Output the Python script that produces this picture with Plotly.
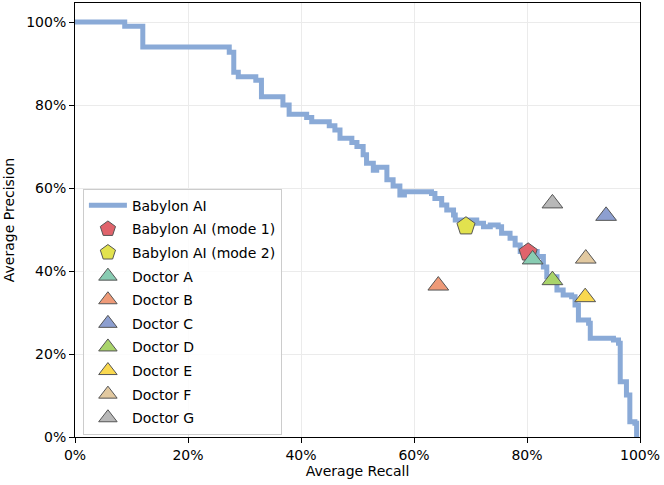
import plotly.graph_objects as go

# Babylon AI precision-recall curve (percent), step points (drawn as 'hv')
curve_recall = [0, 8.8, 12.0, 27.3, 28.1, 28.9, 32.0, 33.0, 36.8, 37.9, 41.0, 41.9,
                45.0, 46.0, 46.9, 49.0, 49.9, 51.0, 51.6, 52.8, 53.4, 55.2, 56.3,
                57.5, 58.3, 63.1, 63.7, 64.9, 65.8, 67.0, 67.3, 71.1, 72.3, 73.5,
                74.9, 75.5, 77.0, 77.9, 78.8, 81.8, 82.9, 83.5, 85.3, 86.4, 87.9,
                88.5, 89.1, 90.9, 91.2, 95.3, 96.2, 96.5, 97.6, 98.2, 99.1, 99.4]
curve_precision = [100, 99, 94, 92.7, 87.9, 86.8, 86.0, 82.0, 80.0, 77.8, 77.0, 76.0,
                   75.0, 74.0, 72.0, 71.0, 70.0, 68.0, 66.0, 64.3, 65.0, 62.0, 60.5,
                   58.3, 59.1, 58.7, 57.5, 55.9, 54.7, 53.5, 52.3, 51.5, 50.7, 51.1,
                   50.7, 49.1, 47.9, 46.3, 44.7, 43.5, 41.0, 38.6, 35.4, 34.2, 33.8,
                   31.8, 28.2, 27.4, 23.8, 23.4, 22.6, 13.3, 10.1, 3.7, 3.3, 0.0]

# Babylon AI operating modes
mode_names = ["Babylon AI (mode 1)", "Babylon AI (mode 2)"]
mode_recall = [80.2, 69.2]
mode_precision = [44.5, 50.8]
mode_colors = ["#e0636b", "#e2e24e"]

# Doctors
doctor_names = ["Doctor A", "Doctor B", "Doctor C", "Doctor D", "Doctor E", "Doctor F", "Doctor G"]
doctor_recall = [81.0, 64.3, 94.0, 84.5, 90.3, 90.4, 84.5]
doctor_precision = [42.8, 36.5, 53.3, 37.8, 33.7, 43.0, 56.3]
doctor_colors = ["#88ccb2", "#ee9a78", "#8d9fd0", "#a9d46a", "#f9d84f", "#e2c9a0", "#b8b8b8"]

tick_vals = [0, 20, 40, 60, 80, 100]
tick_text = ["0%", "20%", "40%", "60%", "80%", "100%"]

fig = go.Figure()

fig.add_trace(go.Scatter(
    x=curve_recall, y=curve_precision, mode="lines", name="Babylon AI",
    line=dict(color="#8aaad7", width=5, shape="hv"), legendgroup="g0",
))

for i, (n, x, y, c) in enumerate(zip(mode_names, mode_recall, mode_precision, mode_colors)):
    fig.add_trace(go.Scatter(
        x=[x], y=[y], mode="markers", name=n, legendgroup=f"m{i}",
        marker=dict(symbol="pentagon", size=19, color=c,
                    line=dict(color="#555555", width=1)),
    ))

for i, (n, x, y, c) in enumerate(zip(doctor_names, doctor_recall, doctor_precision, doctor_colors)):
    fig.add_trace(go.Scatter(
        x=[x], y=[y], mode="markers", name=n, legendgroup=f"d{i}",
        marker=dict(symbol="triangle-up", size=18, color=c,
                    line=dict(color="#555555", width=1)),
    ))

axis_common = dict(
    showline=True, linecolor="black", linewidth=1, mirror=True,
    ticks="outside", ticklen=5, tickcolor="black", tickwidth=1,
    showgrid=True, gridcolor="#ebebeb", gridwidth=1, zeroline=False,
    tickmode="array", tickvals=tick_vals, ticktext=tick_text,
    tickfont=dict(size=14, color="black"),
)

fig.update_layout(
    width=664, height=485, autosize=False,
    margin=dict(l=75, r=24, t=3, b=48),
    paper_bgcolor="white", plot_bgcolor="white",
    font=dict(family="DejaVu Sans", size=14, color="black"),
    xaxis=dict(range=[0, 100], title=dict(text="Average Recall", standoff=4,
               font=dict(size=14)), **axis_common),
    yaxis=dict(range=[0, 104.6], title=dict(text="Average Precision", standoff=8,
               font=dict(size=14)), **axis_common),
    legend=dict(x=0.014, y=0.572, xanchor="left", yanchor="top",
                bgcolor="rgba(255,255,255,0.85)", bordercolor="#cccccc",
                borderwidth=1, font=dict(size=14), tracegroupgap=2.4,
                itemwidth=38),
    showlegend=True,
)

fig.write_html(
    "out.html",
    config={"displayModeBar": False},
    post_script="document.body.style.margin='0';document.body.style.padding='0';",
)
